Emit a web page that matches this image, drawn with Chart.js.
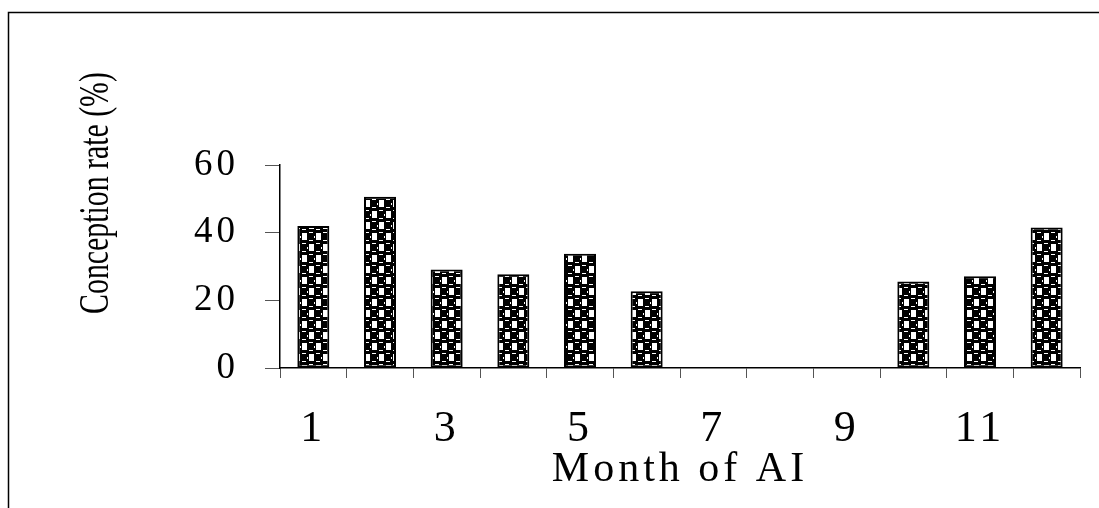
<!DOCTYPE html>
<html>
<head>
<meta charset="utf-8">
<script src="https://cdn.jsdelivr.net/npm/chart.js@4.4.1/dist/chart.umd.min.js"></script>
<style>
  html, body { margin: 0; padding: 0; background: #fff; }
  #wrap { position: relative; width: 1099px; height: 508px; }
</style>
</head>
<body>
<div id="wrap"><canvas id="rateChart"></canvas></div>
<script>
// Data dari grafik
const months = ['1', '2', '3', '4', '5', '6', '7', '8', '9', '10', '11', '12'];
const conceptionRate = [42, 50.6, 29.1, 27.7, 33.8, 22.7, null, null, null, 25.6, 27.1, 41.5];
const yTicks = [0, 20, 40, 60];

const FONT = "'Liberation Serif', 'Times New Roman', serif";

// Pola isi batang (kotak putih dan bulatan hitam berselang-seling)
function makePattern() {
    const c = document.createElement('canvas');
    c.width = 14;
    c.height = 22;
    const p = c.getContext('2d');
    p.fillStyle = '#000';
    p.fillRect(0, 0, 14, 22);
    p.fillStyle = '#fff';
    // kotak putih
    p.fillRect(1, 2, 5, 7);
    p.fillRect(8, 13, 5, 7);
    // garis putih kecil di bulatan hitam
    p.fillRect(8, 1, 4, 1);
    p.fillRect(8, 9, 4, 1);
    p.fillRect(1, 12, 4, 1);
    p.fillRect(1, 20, 4, 1);
    p.fillRect(13, 5, 1, 2);
    p.fillRect(6, 16, 1, 2);
    return document.getElementById('rateChart').getContext('2d').createPattern(c, 'repeat');
}

// Bingkai, spasi huruf, dan judul sumbu Y
const framePlugin = {
    id: 'frame',
    beforeDraw(chart) {
        const ctx = chart.ctx;
        ctx.save();
        ctx.fillStyle = '#fff';
        ctx.fillRect(0, 0, chart.width, chart.height);
        ctx.strokeStyle = '#000';
        ctx.lineWidth = 1.5;
        ctx.beginPath();
        ctx.moveTo(8.5, chart.height);
        ctx.lineTo(8.5, 12.5);
        ctx.lineTo(chart.width, 12.5);
        ctx.stroke();
        ctx.restore();
        ctx.letterSpacing = '4px';
    },
    afterDraw(chart) {
        const ctx = chart.ctx;
        ctx.save();
        ctx.translate(97, 193);
        ctx.rotate(-Math.PI / 2);
        ctx.scale(0.71, 1);
        ctx.font = '42px ' + FONT;
        ctx.fillStyle = '#000';
        ctx.textAlign = 'center';
        ctx.textBaseline = 'middle';
        ctx.letterSpacing = '0px';
        ctx.fillText('Conception rate (%)', 0, 0);
        ctx.restore();
    }
};

new Chart(document.getElementById('rateChart'), {
    type: 'bar',
    data: {
        labels: months,
        datasets: [{
            label: 'Conception rate',
            data: conceptionRate,
            backgroundColor: makePattern(),
            borderColor: '#000',
            borderWidth: 2,
            borderSkipped: false,
            categoryPercentage: 1,
            barPercentage: 0.48
        }]
    },
    options: {
        responsive: true,
        maintainAspectRatio: false,
        animation: false,
        layout: {
            padding: { top: 165, right: 19, left: 0, bottom: 0 }
        },
        plugins: {
            legend: { display: false },
            tooltip: { enabled: false }
        },
        scales: {
            x: {
                afterFit: function(scale) { scale.height = 140; },
                grid: {
                    offset: true,
                    drawOnChartArea: false,
                    drawTicks: true,
                    tickLength: 10,
                    tickColor: '#555',
                    tickWidth: 1
                },
                border: { color: '#000', width: 1.5 },
                ticks: {
                    autoSkip: false,
                    maxRotation: 0,
                    padding: 25,
                    color: '#000',
                    font: { family: FONT, size: 44 },
                    callback: function(value, index) {
                        return index % 2 === 0 ? months[index] : '';
                    }
                },
                title: {
                    display: true,
                    text: 'Month of AI',
                    color: '#000',
                    font: { family: FONT, size: 42 },
                    padding: { top: 0, bottom: 13 }
                }
            },
            y: {
                min: 0,
                max: 60,
                afterFit: function(scale) { scale.width = 280; },
                afterBuildTicks: function(scale) {
                    scale.ticks = yTicks.map(v => ({ value: v }));
                },
                grid: {
                    drawOnChartArea: false,
                    drawTicks: true,
                    tickLength: 15,
                    tickColor: '#555',
                    tickWidth: 1
                },
                border: { color: '#000', width: 1.5 },
                ticks: {
                    padding: 26,
                    color: '#000',
                    font: { family: FONT, size: 37 }
                }
            }
        }
    },
    plugins: [framePlugin]
});
</script>
</body>
</html>
